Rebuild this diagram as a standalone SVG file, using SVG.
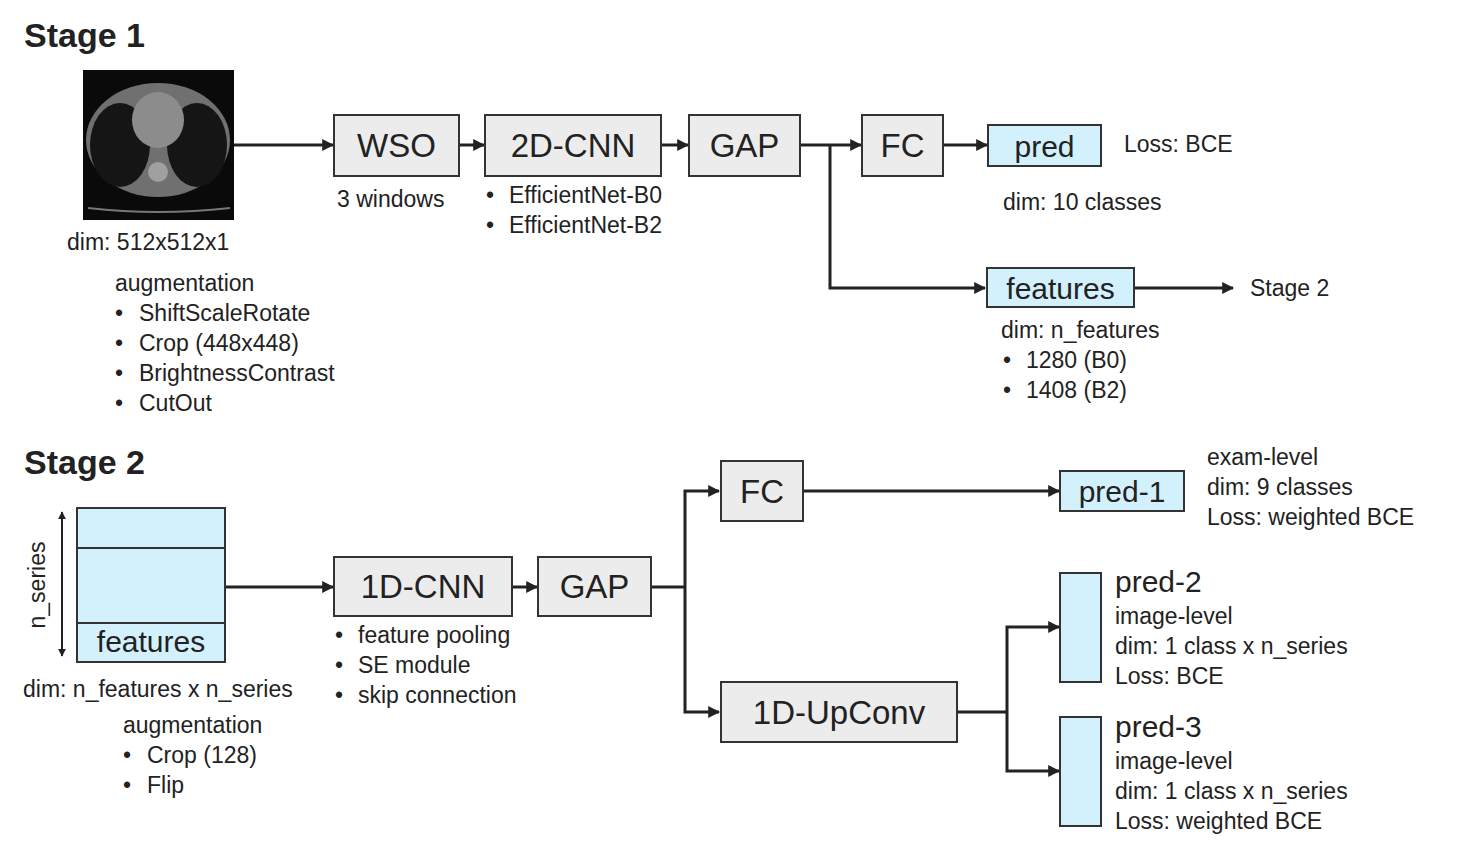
<svg xmlns="http://www.w3.org/2000/svg" width="1458" height="850" viewBox="0 0 1458 850">
<defs>
<marker id="ah" viewBox="0 0 10 10" refX="9" refY="5" markerWidth="4" markerHeight="4" orient="auto-start-reverse" markerUnits="strokeWidth"><path d="M0,0 L10,5 L0,10 z" fill="#222"/></marker>
<radialGradient id="lung" cx="0.5" cy="0.5" r="0.5"><stop offset="0" stop-color="#8a8a8a"/><stop offset="1" stop-color="#5a5a5a"/></radialGradient>
</defs>
<style>
text{font-family:"Liberation Sans",Arial,sans-serif;fill:#222}
.t{font-size:23px}
.h{font-size:34px;font-weight:bold}
.b{font-size:33px}
.m{font-size:30px}
.box{fill:#ececec;stroke:#333;stroke-width:2}
.blue{fill:#d3f1fd;stroke:#333;stroke-width:2}
.c{fill:none;stroke:#222;stroke-width:3}
.a{marker-end:url(#ah)}
</style>
<rect width="1458" height="850" fill="#fff"/>
<text class="h" x="24" y="47">Stage 1</text>
<text class="h" x="24" y="474">Stage 2</text>
<g id="ct">
<rect x="83" y="70" width="151" height="150" fill="#0a0a0a"/>
<ellipse cx="158" cy="140" rx="72" ry="57" fill="#707070"/>
<ellipse cx="120" cy="145" rx="30" ry="42" fill="#151515"/>
<ellipse cx="197" cy="145" rx="30" ry="42" fill="#151515"/>
<ellipse cx="158" cy="120" rx="26" ry="28" fill="#8c8c8c"/>
<circle cx="158" cy="172" r="10" fill="#a0a0a0"/>
<path d="M88,208 Q158,216 230,208" stroke="#777" stroke-width="2" fill="none"/>
</g>
<g id="connectors">
<path class="c a" d="M234,145 H333"/>
<path class="c a" d="M459,145 H484"/>
<path class="c a" d="M661,145 H688"/>
<path class="c a" d="M800,145 H861"/>
<path class="c a" d="M830,145 V288 H985"/>
<path class="c a" d="M943,145 H987"/>
<path class="c a" d="M1134,288 H1233"/>
<path class="c a" d="M225,587 H333"/>
<path class="c a" d="M512,587 H537"/>
<path class="c" d="M651,587 H685"/>
<path class="c a" d="M685,587 V491 H719"/>
<path class="c a" d="M685,587 V712 H719"/>
<path class="c a" d="M803,491 H1059"/>
<path class="c" d="M957,712 H1007"/>
<path class="c a" d="M1007,712 V627 H1059"/>
<path class="c a" d="M1007,712 V771 H1059"/>
<path d="M62,512 V656" stroke="#222" stroke-width="2" marker-start="url(#ah)" marker-end="url(#ah)" fill="none"/>
</g>
<g id="wso"><rect class="box" x="334" y="115" width="125" height="61"/><text class="b" x="396.5" y="157" text-anchor="middle">WSO</text></g>
<g id="cnn2d"><rect class="box" x="485" y="115" width="176" height="61"/><text class="b" x="573" y="157" text-anchor="middle">2D-CNN</text></g>
<g id="gap1"><rect class="box" x="689" y="115" width="111" height="61"/><text class="b" x="744.5" y="157" text-anchor="middle">GAP</text></g>
<g id="fc1"><rect class="box" x="862" y="115" width="81" height="61"/><text class="b" x="902.5" y="157" text-anchor="middle">FC</text></g>
<g id="pred"><rect class="blue" x="988" y="125" width="113" height="41"/><text class="m" x="1044.5" y="157" text-anchor="middle">pred</text></g>
<g id="features1"><rect class="blue" x="987" y="268" width="147" height="39"/><text class="m" x="1060.5" y="299" text-anchor="middle">features</text></g>
<g id="s1text">
<text class="t" x="337" y="207">3 windows</text>
<text class="t" x="486" y="203">•</text><text class="t" x="509" y="203">EfficientNet-B0</text>
<text class="t" x="486" y="233">•</text><text class="t" x="509" y="233">EfficientNet-B2</text>
<text class="t" x="1124" y="152">Loss: BCE</text>
<text class="t" x="1003" y="210">dim: 10 classes</text>
<text class="t" x="1250" y="296">Stage 2</text>
<text class="t" x="1001" y="338">dim: n_features</text>
<text class="t" x="1003" y="368">•</text><text class="t" x="1026" y="368">1280 (B0)</text>
<text class="t" x="1003" y="398">•</text><text class="t" x="1026" y="398">1408 (B2)</text>
<text class="t" x="67" y="250">dim: 512x512x1</text>
<text class="t" x="115" y="291">augmentation</text>
<text class="t" x="115" y="321">•</text><text class="t" x="139" y="321">ShiftScaleRotate</text>
<text class="t" x="115" y="351">•</text><text class="t" x="139" y="351">Crop (448x448)</text>
<text class="t" x="115" y="381">•</text><text class="t" x="139" y="381">BrightnessContrast</text>
<text class="t" x="115" y="411">•</text><text class="t" x="139" y="411">CutOut</text>
</g>
<g id="features2">
<rect class="blue" x="77" y="508" width="148" height="154"/>
<path d="M77,548 H225 M77,623 H225" stroke="#333" stroke-width="2"/>
<text class="m" x="151" y="652" text-anchor="middle">features</text>
<text class="t" x="45" y="585" text-anchor="middle" transform="rotate(-90 45 585)">n_series</text>
</g>
<g id="cnn1d"><rect class="box" x="334" y="557" width="178" height="59"/><text class="b" x="423" y="598" text-anchor="middle">1D-CNN</text></g>
<g id="gap2"><rect class="box" x="538" y="557" width="113" height="59"/><text class="b" x="594.5" y="598" text-anchor="middle">GAP</text></g>
<g id="fc2"><rect class="box" x="721" y="461" width="82" height="60"/><text class="b" x="762" y="503" text-anchor="middle">FC</text></g>
<g id="upconv"><rect class="box" x="721" y="682" width="236" height="60"/><text class="b" x="839" y="724" text-anchor="middle">1D-UpConv</text></g>
<g id="pred1"><rect class="blue" x="1060" y="471" width="124" height="40"/><text class="m" x="1122" y="502" text-anchor="middle">pred-1</text></g>
<g id="pred2"><rect class="blue" x="1060" y="573" width="41" height="109"/><text class="m" x="1115" y="592">pred-2</text></g>
<g id="pred3"><rect class="blue" x="1060" y="717" width="41" height="109"/><text class="m" x="1115" y="737">pred-3</text></g>
<g id="s2text">
<text class="t" x="1207" y="465">exam-level</text>
<text class="t" x="1207" y="495">dim: 9 classes</text>
<text class="t" x="1207" y="525">Loss: weighted BCE</text>
<text class="t" x="1115" y="624">image-level</text>
<text class="t" x="1115" y="654">dim: 1 class x n_series</text>
<text class="t" x="1115" y="684">Loss: BCE</text>
<text class="t" x="1115" y="769">image-level</text>
<text class="t" x="1115" y="799">dim: 1 class x n_series</text>
<text class="t" x="1115" y="829">Loss: weighted BCE</text>
<text class="t" x="23" y="697">dim: n_features x n_series</text>
<text class="t" x="123" y="733">augmentation</text>
<text class="t" x="123" y="763">•</text><text class="t" x="147" y="763">Crop (128)</text>
<text class="t" x="123" y="793">•</text><text class="t" x="147" y="793">Flip</text>
<text class="t" x="335" y="643">•</text><text class="t" x="358" y="643">feature pooling</text>
<text class="t" x="335" y="673">•</text><text class="t" x="358" y="673">SE module</text>
<text class="t" x="335" y="703">•</text><text class="t" x="358" y="703">skip connection</text>
</g>
</svg>
